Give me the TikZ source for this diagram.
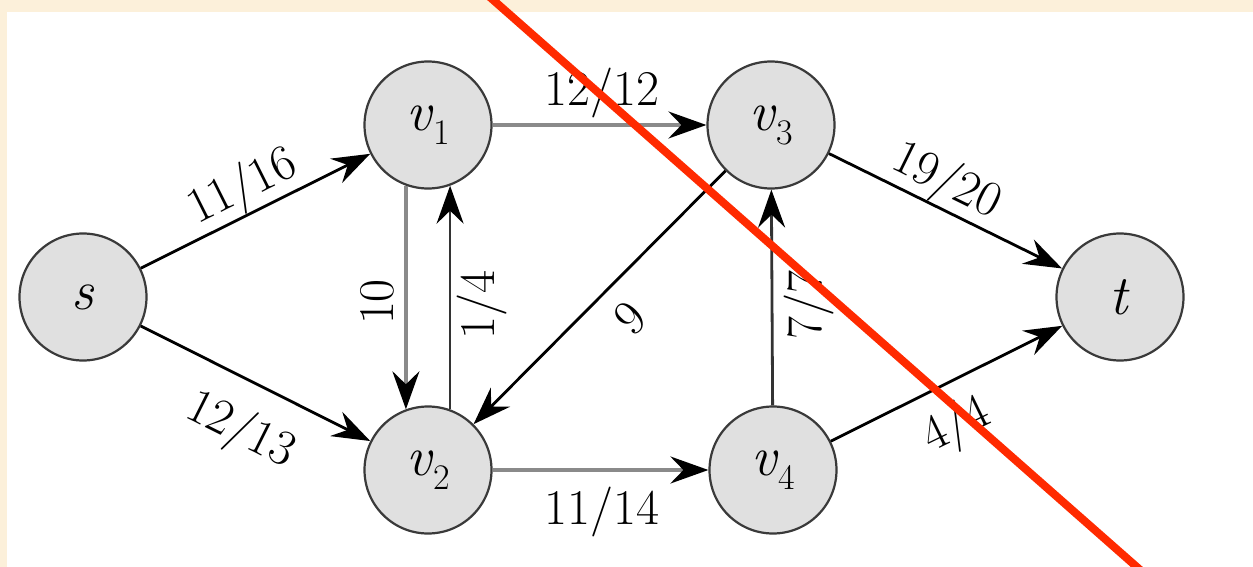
\documentclass[tikz,border=0pt]{standalone}
\usepackage{fontspec}
\usetikzlibrary{arrows.meta}
\definecolor{beige}{HTML}{FCF0DA}
\definecolor{nodefill}{HTML}{E0E0E0}
\definecolor{nodeborder}{HTML}{3A3A3A}
\definecolor{lgray}{HTML}{8A8A8A}
\definecolor{dgray}{HTML}{333333}
\definecolor{redline}{HTML}{FF2A00}
\newcommand{\vsub}[2]{\textit{#1}\raisebox{-14pt}{\fontsize{36}{36}\selectfont #2}}
\begin{document}
\begin{tikzpicture}[x=1pt,y=-1pt,
  vert/.style={circle, draw=nodeborder, line width=2.2pt, fill=nodefill,
    minimum size=127pt, inner sep=0pt, font=\fontsize{56}{60}\selectfont},
  flow/.style={line width=2.8pt, -{Stealth[length=38pt,width=27pt,inset=13pt,color=black]}},
  gflow/.style={flow, line width=3.2pt, lgray},
  lab/.style={font=\fontsize{50}{56}\selectfont, inner sep=0pt},
]
\useasboundingbox (0,0) rectangle (1253,567);
\fill[beige] (0,0) rectangle (1253,567);
\fill[white] (7,12) rectangle (1253,567);

\node[vert] (s) at (83,297) {\textit{s}};
\node[vert] (v1) at (428,125) {\vsub{v}{1}};
\node[vert] (v3) at (771,125) {\vsub{v}{3}};
\node[vert] (t) at (1120,297) {\textit{t}};
\node[vert] (v2) at (428,470) {\vsub{v}{2}};
\node[vert] (v4) at (773,470) {\vsub{v}{4}};

\draw[flow, black] (s) -- (v1);
\draw[flow, black] (s) -- (v2);
\draw[gflow] (v1) -- (v3);
\draw[gflow] (v1.250) -- (v2.110);
\draw[flow, dgray] (v2.70) -- (v1.290);
\draw[gflow] (v2) -- (v4);
\draw[flow, black] (v3) -- (v2);
\draw[flow, dgray] (v4) -- (v3);
\draw[flow, black] (v3) -- (t);
\draw[flow, black] (v4) -- (t);

\node[lab, rotate=26.6] (l1) at (243,188) {11/16};
\node[lab, rotate=-26.6] (l2) at (240,431) {12/13};
\node[lab] (l3) at (602,93) {12/12};
\node[lab, rotate=90] (l4) at (377,302) {10};
\node[lab, rotate=90] (l5) at (482,305) {1/4};
\node[lab, rotate=45] (l6) at (630,318) {9};
\node[lab, rotate=90] (l7) at (809,305) {7/7};
\node[lab, rotate=-26.2] (l8) at (946,182) {19/20};
\node[lab, rotate=26] (l9) at (957,426) {4/4};
\node[lab] (l10) at (602,512) {11/14};

\coordinate (r1) at (487.5,-5);
\coordinate (r2) at (1142.5,572);
\draw[redline, line width=8pt] (r1) -- (r2);
\end{tikzpicture}
\end{document}
